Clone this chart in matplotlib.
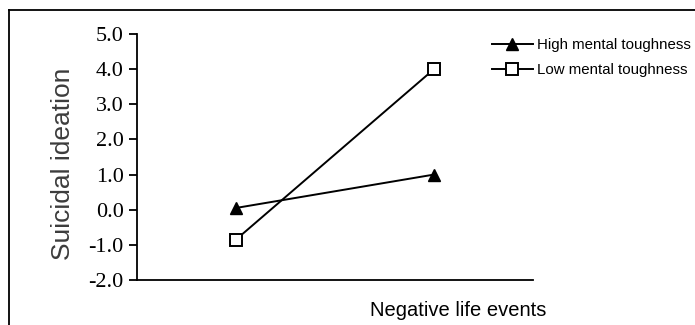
import matplotlib
matplotlib.use('Agg')
from matplotlib import pyplot as plt
from matplotlib.lines import Line2D

# data
x_pos = [1, 3]
high_tough = [0.05, 1.0]
low_tough = [-0.85, 4.0]
y_ticks = [-2.0, -1.0, 0.0, 1.0, 2.0, 3.0, 4.0, 5.0]
series_labels = ['High mental toughness', 'Low mental toughness']

W, H = 695, 325
fig = plt.figure(figsize=(W / 100, H / 100), dpi=100)

# axes placed in pixel terms
ax_l, ax_r, ax_t, ax_b = 137, 533, 34, 280
ax = fig.add_axes([ax_l / W, 1 - ax_b / H, (ax_r - ax_l) / W, (ax_b - ax_t) / H])

ax.plot(x_pos, high_tough, color='black', lw=1.4, marker='^', ms=9,
        mfc='black', mec='black', label=series_labels[0])
ax.plot(x_pos, low_tough, color='black', lw=1.4, marker='s', ms=9,
        mfc='white', mec='black', mew=1.4, label=series_labels[1])

ax.set_xlim(0, 4)
ax.set_ylim(-2, 5)
ax.set_yticks(y_ticks)
ax.set_yticklabels([f'{v:.1f}' for v in y_ticks], family='Liberation Serif', fontsize=16)
ax.set_xticks([])
ax.tick_params(axis='y', length=6, width=1.3, pad=3.5, colors='black')

for s in ['top', 'right']:
    ax.spines[s].set_visible(False)
for s in ['left', 'bottom']:
    ax.spines[s].set_linewidth(1.3)
    ax.spines[s].set_color('black')

fig.text(63 / W, 1 - 164 / H, 'Suicidal ideation', rotation=90, ha='center', va='center',
         family='Liberation Sans', fontsize=19, color='#3c3c3c')
fig.text(458 / W, 1 - 311 / H, 'Negative life events', ha='center', va='center',
         family='Liberation Sans', fontsize=14.5, color='black')

leg = fig.legend(loc='upper left', bbox_to_anchor=(492 / W, 1 - 38 / H), frameon=False,
                 prop={'family': 'Liberation Sans', 'size': 10.8}, handlelength=2.7,
                 handletextpad=0.3, labelspacing=0.75, borderaxespad=0, borderpad=0,
                 markerscale=0.95)

# outer frame (only top and left visible)
fig.add_artist(Line2D([9 / W, 1], [1 - 10 / H, 1 - 10 / H], color='black', lw=1.3,
                      transform=fig.transFigure))
fig.add_artist(Line2D([9 / W, 9 / W], [1 - 10 / H, 0], color='black', lw=1.3,
                      transform=fig.transFigure))

fig.savefig('out.png', dpi=100)
